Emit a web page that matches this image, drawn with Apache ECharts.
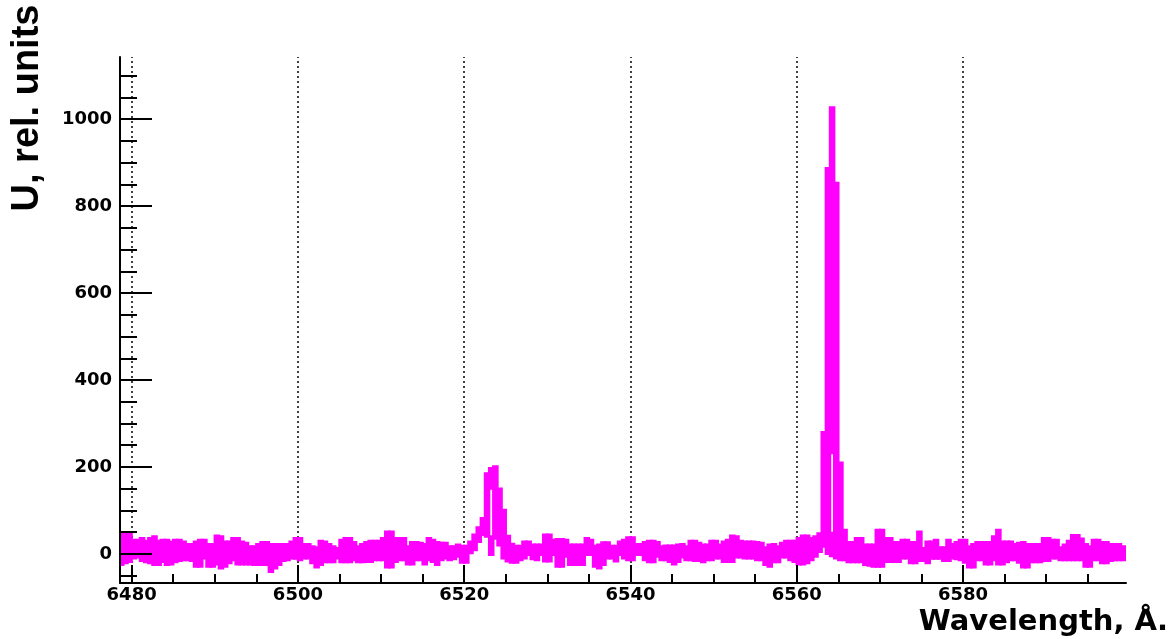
<!DOCTYPE html>
<html><head><meta charset="utf-8">
<script src="https://cdn.jsdelivr.net/npm/echarts@6/dist/echarts.min.js"></script>
<style>html,body{margin:0;padding:0;background:#fff}#c{width:1171px;height:639px}#err{position:absolute;left:200px;top:100px;color:red;font:12px monospace}</style>
</head><body><div id="c"></div><div id="err"></div>
<script>
// Histogram bins: left edge of bin 0 and bin width (Angstrom)
const binStart = 6478.5;
const binWidth = 0.5;
// Upper edge of the plotted magenta trace per bin (rel. units)
const upper = [
 47,47,47,32,32,36,30,36,40,30, 32,32,28,32,32,28,22,22,28,32,
 32,22,22,42,40,28,28,36,36,28, 25,17,17,22,27,27,22,22,22,22,
 22,28,36,36,22,22,17,15,30,28, 22,17,13,32,36,36,27,17,22,27,
 30,30,30,36,51,51,36,36,36,17, 27,27,25,22,36,32,27,25,25,17,
 17,21,18,18,28,44,61,82,185,197, 201,150,101,41,23,18,18,28,28,21,
 21,21,44,44,32,34,34,32,21,21, 21,21,36,32,18,21,26,26,18,18,
 28,32,38,38,22,22,27,30,30,27, 17,19,19,19,21,22,17,30,30,25,
 21,21,30,30,21,28,32,42,40,30, 28,28,28,27,25,15,21,22,17,25,
 30,30,30,36,42,42,36,40,47,280, 887,1027,853,210,55,27,27,36,36,21,
 21,21,55,55,36,36,27,27,32,32, 27,27,51,13,28,28,32,15,15,32,
 22,27,32,32,17,22,27,27,27,27, 40,55,28,28,28,22,25,27,22,22,
 22,22,36,36,32,32,15,21,30,43, 43,35,22,17,32,32,27,27,22,22,
 22,17
];
// Lower edge of the plotted magenta trace per bin
const lower = [
 -25,-21,-18,-10,-8,-16,-19,-21,-25,-25, -18,-25,-24,-19,-16,-14,-14,-16,-29,-29,
 -10,-29,-29,-24,-33,-29,-21,-14,-24,-24, -24,-24,-25,-25,-25,-25,-41,-33,-25,-16,
 -14,-10,-11,-14,-10,-10,-21,-31,-25,-19, -19,-19,-10,-19,-19,-19,-14,-19,-19,-18,
 -18,-14,-14,-14,-31,-31,-18,-14,-14,-24, -24,-14,-14,-24,-14,-18,-25,-14,-10,-14,
 -12,-6,-20,-20,2,9,28,44,40,-2, 35,20,-10,-17,-20,-20,-14,-10,-2,-12,
 -14,-2,-17,-17,-2,-29,-29,-6,-25,-25, -25,-25,-2,-2,-29,-33,-25,-10,-10,-17,
 -2,-10,-14,-14,-2,-2,-14,-19,-19,-6, -14,-14,-18,-24,-18,-8,-14,-14,-16,-16,
 -19,-14,-14,-10,-10,-18,-18,-18,-8,-8, -10,-10,-10,-14,-14,-25,-29,-19,-19,-8,
 -8,-14,-18,-24,-24,-21,-14,-6,5,17, 0,-5,-10,-14,-14,-19,-19,-19,-19,-25,
 -27,-29,-29,-29,-18,-18,-18,-18,-10,-10, -21,-21,-16,-16,-21,-11,-11,-11,-16,-16,
 -10,-12,-14,-20,-31,-31,-14,-14,-24,-24, -14,-24,-24,-19,-14,-14,-20,-31,-31,-19,
 -19,-19,-16,-16,-10,-10,-14,-14,-14,-14, -14,-14,-29,-29,-14,-14,-21,-21,-16,-14,
 -14,-14
];
// Bins whose trace encloses a white gap (inside the two emission lines)
const holeBin = [89, 171];
const holeLow = [40, 48];
const holeHigh = [150, 232];

const xMajor = [6480, 6500, 6520, 6540, 6560, 6580];
const xMinor = [6480,6485,6490,6495,6500,6505,6510,6515,6520,6525,6530,6535,6540,6545,6550,6555,6560,6565,6570,6575,6580,6585,6590,6595];
const yMajor = [0, 200, 400, 600, 800, 1000];
const yMinor = [-50,0,50,100,150,200,250,300,350,400,450,500,550,600,650,700,750,800,850,900,950,1000,1050,1100];
const xRange = [6478.6, 6599.6];
const yRange = [-67, 1143];
const xTitle = 'Wavelength, Å.';
const yTitle = 'U, rel. units';

try {
const n = upper.length;
const edge = i => +(binStart + i * binWidth).toFixed(3);
// rectangles [x0, x1, low, high] of the trace, one or two per bin
const rects = [];
for (let i = 0; i < n; i++) {
  const x0 = Math.max(edge(i), xRange[0] + 0.15);
  const x1 = edge(i + 1);
  const h = holeBin.indexOf(i);
  if (h >= 0) {
    rects.push([x0, x1, lower[i], holeLow[h]]);
    rects.push([x0, x1, holeHigh[h], upper[i]]);
  } else {
    rects.push([x0, x1, lower[i], upper[i]]);
  }
}

const MAG = '#ff00ff';
const FONT = 'DejaVu Sans';
const fmt = v => String(v);

const chart = echarts.init(document.getElementById('c'), null, { renderer: 'canvas' });
chart.setOption({
  animation: false,
  backgroundColor: '#fff',
  grid: { left: 120, right: 45, top: 57, bottom: 56, containLabel: false, outerBoundsMode: 'none' },
  xAxis: [
    { type: 'value', min: xRange[0], max: xRange[1], position: 'bottom', z: 5,
      axisLine: { show: true, onZero: false, lineStyle: { color: '#000', width: 2 } },
      axisTick: { show: true, inside: true, length: 18, customValues: xMajor, lineStyle: { color: '#000', width: 2 } },
      axisLabel: { show: true, customValues: xMajor, formatter: fmt, margin: 3, color: '#000', fontFamily: FONT, fontWeight: 'bold', fontSize: 18 },
      splitLine: { show: false } },
    { type: 'value', min: xRange[0], max: xRange[1], position: 'bottom', z: 5,
      axisLine: { show: false, onZero: false },
      axisTick: { show: true, inside: true, length: 9, customValues: xMinor, lineStyle: { color: '#000', width: 2 } },
      axisLabel: { show: false }, splitLine: { show: false } }
  ],
  yAxis: [
    { type: 'value', min: yRange[0], max: yRange[1], position: 'left', z: 5,
      axisLine: { show: true, onZero: false, lineStyle: { color: '#000', width: 2 } },
      axisTick: { show: true, inside: true, length: 32, customValues: yMajor, lineStyle: { color: '#000', width: 2 } },
      axisLabel: { show: true, customValues: yMajor, formatter: fmt, margin: 8, color: '#000', fontFamily: FONT, fontWeight: 'bold', fontSize: 18 },
      splitLine: { show: false } },
    { type: 'value', min: yRange[0], max: yRange[1], position: 'left', z: 5,
      axisLine: { show: false, onZero: false },
      axisTick: { show: true, inside: true, length: 17, customValues: yMinor, lineStyle: { color: '#000', width: 2 } },
      axisLabel: { show: false }, splitLine: { show: false } }
  ],
  series: [
    { type: 'line', data: [], xAxisIndex: 0, yAxisIndex: 0, z: 1, silent: true,
      markLine: { silent: true, symbol: ['none', 'none'], z: 1, animation: false,
        label: { show: false },
        lineStyle: { color: '#000', width: 1.5, type: [2, 3] },
        data: xMajor.map(v => ({ xAxis: v })) } },
    { type: 'custom', data: rects, xAxisIndex: 0, yAxisIndex: 0, z: 2, silent: true, clip: true,
      encode: { x: [0, 1], y: [2, 3] },
      renderItem: function (params, api) {
        const p0 = api.coord([api.value(0), api.value(3)]);
        const p1 = api.coord([api.value(1), api.value(2)]);
        return { type: 'rect',
          shape: { x: p0[0], y: p0[1], width: p1[0] - p0[0], height: p1[1] - p0[1] },
          style: { fill: MAG, stroke: MAG, lineWidth: 2.4, lineJoin: 'miter' } };
      } }
  ],
  graphic: [
    { type: 'text', x: 28, y: 108, rotation: Math.PI / 2, z: 10,
      style: { text: yTitle, fill: '#000', fontFamily: 'Liberation Sans', fontWeight: 'bold', fontSize: 38, align: 'center', verticalAlign: 'middle' } },
    { type: 'text', x: 1168, y: 622, z: 10,
      style: { text: xTitle, fill: '#000', fontFamily: FONT, fontWeight: 'bold', fontSize: 29, align: 'right', verticalAlign: 'middle' } }
  ]
});
} catch (e) { document.getElementById('err').textContent = String(e && e.stack || e); }
</script></body></html>
